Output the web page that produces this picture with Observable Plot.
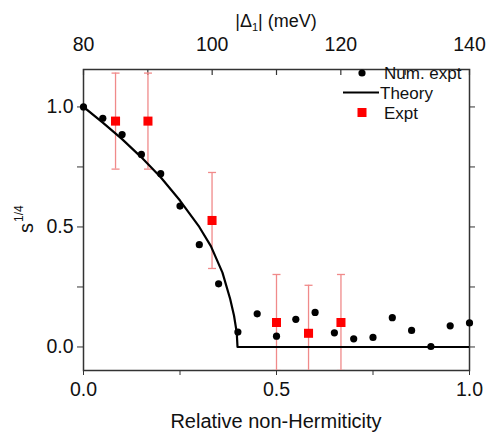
<!DOCTYPE html>
<html>
<head>
<meta charset="utf-8">
<script src="https://cdn.jsdelivr.net/npm/d3@7"></script>
<script src="https://cdn.jsdelivr.net/npm/@observablehq/plot@0.6"></script>
<style>
  html, body { margin: 0; padding: 0; background: white; }
  svg { display: block; }
</style>
</head>
<body>
<div id="chart"></div>
<script>
// ---- Data ----
const numX = [0, 0.05, 0.10, 0.15, 0.20, 0.25, 0.30, 0.35, 0.40, 0.45, 0.50, 0.55, 0.60, 0.65, 0.70, 0.75, 0.80, 0.85, 0.90, 0.95, 1.00];
const numY = [1.0, 0.953, 0.885, 0.802, 0.722, 0.587, 0.426, 0.263, 0.062, 0.138, 0.045, 0.115, 0.144, 0.059, 0.034, 0.040, 0.122, 0.069, 0.002, 0.088, 0.100];

const theoryX = [0, 0.05, 0.10, 0.15, 0.20, 0.25, 0.30, 0.33, 0.36, 0.38, 0.39, 0.397, 0.399, 1.0];
const theoryY = [1.0, 0.935, 0.866, 0.79, 0.707, 0.61, 0.50, 0.42, 0.31, 0.20, 0.13, 0.06, 0, 0];

const exptX = [0.083, 0.167, 0.333, 0.500, 0.583, 0.667];
const exptY = [0.941, 0.941, 0.527, 0.102, 0.057, 0.102];
const exptErr = [0.2, 0.2, 0.2, 0.2, 0.2, 0.2];

const bottomTicks = [0, 0.25, 0.5, 0.75, 1.0];
const bottomLabels = [0, 0.5, 1.0];
const leftTicks = [0, 0.25, 0.5, 0.75, 1.0];
const leftLabels = [0, 0.5, 1.0];
const topTicks = [80, 90, 100, 110, 120, 130, 140];
const topLabels = [80, 100, 120, 140];

const legendLabels = ["Num. expt", "Theory", "Expt"];

// ---- Build tables ----
const num = numX.map((x, i) => ({x, y: numY[i]}));
const theory = theoryX.map((x, i) => ({x, y: theoryY[i]}));
const expt = exptX.map((x, i) => ({x, y: exptY[i], lo: exptY[i] - exptErr[i], hi: exptY[i] + exptErr[i]}));
const topMin = topTicks[0], topMax = topTicks[topTicks.length - 1];
const toX = v => (v - topMin) / (topMax - topMin);

const capSymbol = {
  draw(context, size) {
    const w = Math.sqrt(size / Math.PI);
    context.moveTo(-w, 0);
    context.lineTo(w, 0);
  }
};

const FONT = "'Liberation Sans', Arial, Helvetica, sans-serif";
const errColor = "#f08a8a";

const chart = Plot.plot({
  width: 493,
  height: 435,
  marginLeft: 83,
  marginRight: 24,
  marginTop: 69,
  marginBottom: 65,
  style: {fontFamily: FONT, fontSize: "19.5px", background: "white", color: "#111", overflow: "visible"},
  x: {domain: [0, 1]},
  y: {domain: [-0.098, 1.156]},
  marks: [
    Plot.axisX({anchor: "bottom", ticks: bottomTicks, tickSize: 5, tickPadding: 7,
      tickFormat: d => bottomLabels.some(v => Math.abs(v - d) < 1e-9) ? d.toFixed(1) : "", label: null, stroke: "#333"}),
    Plot.axisX({anchor: "top", ticks: topLabels.map(toX), tickSize: 0, tickPadding: 19,
      tickFormat: d => String(Math.round(topMin + d * (topMax - topMin))), label: null}),
    Plot.tickX(topTicks, {x: toX, insetBottom: 295, stroke: "#333", strokeWidth: 1.2}),
    Plot.axisY({anchor: "left", ticks: leftTicks, tickSize: 6, tickPadding: 4,
      tickFormat: d => leftLabels.some(v => Math.abs(v - d) < 1e-9) ? d.toFixed(1) : "", label: null, stroke: "#333"}),
    Plot.axisY({anchor: "right", ticks: leftTicks, tickSize: 5, tickFormat: () => "", label: null, stroke: "#333"}),
    Plot.frame({stroke: "#333", strokeWidth: 1.5}),
    Plot.ruleX(expt, {x: "x", y1: "lo", y2: "hi", stroke: errColor, strokeWidth: 1.3, clip: true}),
    Plot.dot(expt, {x: "x", y: "hi", symbol: capSymbol, r: 4, fill: "none", stroke: errColor, strokeWidth: 1.3, clip: true}),
    Plot.dot(expt, {x: "x", y: "lo", symbol: capSymbol, r: 4, fill: "none", stroke: errColor, strokeWidth: 1.3, clip: true}),
    Plot.line(theory, {x: "x", y: "y", stroke: "black", strokeWidth: 2.2, clip: true}),
    Plot.dot(num, {x: "x", y: "y", r: 3.6, fill: "black", stroke: "none"}),
    Plot.dot(expt, {x: "x", y: "y", symbol: "square", r: 5.1, fill: "#ff0000", stroke: "none"})
  ]
});

document.getElementById("chart").appendChild(chart);
const svg = d3.select(chart);

// Bottom axis title
svg.append("text")
  .attr("x", 276).attr("y", 428)
  .attr("text-anchor", "middle")
  .attr("font-family", FONT).attr("font-size", 20).attr("fill", "#111")
  .text("Relative non-Hermiticity");

// Top axis title |Δ1| (meV)
const tt = svg.append("text")
  .attr("x", 276).attr("y", 27)
  .attr("text-anchor", "middle")
  .attr("font-family", FONT).attr("font-size", 18).attr("fill", "#111");
tt.append("tspan").text("|Δ");
tt.append("tspan").attr("font-size", 11).attr("dy", 4).text("1");
tt.append("tspan").attr("dy", -4).text("| (meV)");

// Y axis title s^{1/4}
const yt = svg.append("text")
  .attr("transform", "translate(33,233) rotate(-90)")
  .attr("text-anchor", "start")
  .attr("font-family", FONT).attr("font-size", 20).attr("fill", "#111");
yt.append("tspan").text("s");
yt.append("tspan").attr("font-size", 12).attr("dy", -10).attr("dx", 1).text("1/4");

// Legend
const lg = svg.append("g").attr("font-family", FONT).attr("font-size", 17).attr("fill", "#111").attr("text-anchor", "start");
lg.append("circle").attr("cx", 362).attr("cy", 73).attr("r", 3.6).attr("fill", "black");
lg.append("text").attr("x", 384).attr("y", 79).text(legendLabels[0]);
lg.append("line").attr("x1", 343).attr("x2", 379).attr("y1", 92.5).attr("y2", 92.5).attr("stroke", "black").attr("stroke-width", 2);
lg.append("text").attr("x", 380).attr("y", 98.5).text(legendLabels[1]);
lg.append("rect").attr("x", 357.5).attr("y", 108).attr("width", 9).attr("height", 9).attr("fill", "#ff0000");
lg.append("text").attr("x", 384).attr("y", 119).text(legendLabels[2]);
</script>
</body>
</html>
